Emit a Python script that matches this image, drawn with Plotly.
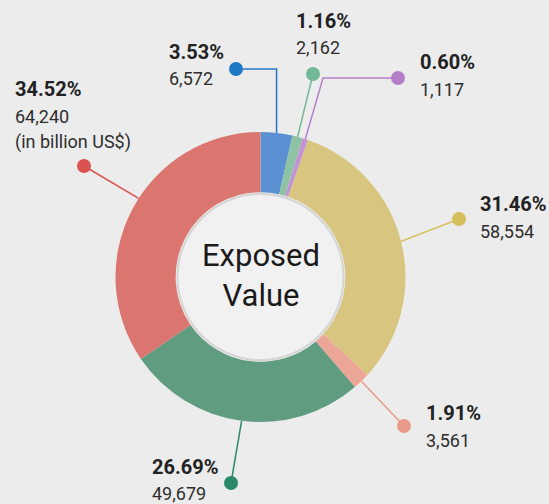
import math
import plotly.graph_objects as go

# ---- data ----
categories = ["A", "B", "C", "D", "E", "F", "G"]
values = [6572, 2162, 1117, 58554, 3561, 49679, 64240]
pct_labels = ["3.53%", "1.16%", "0.60%", "31.46%", "1.91%", "26.69%", "34.52%"]
value_labels = ["6,572", "2,162", "1,117", "58,554", "3,561", "49,679", "64,240"]
extra_labels = ["", "", "", "", "", "", "(in billion US$)"]
center_title = "Exposed<br>Value"

# ---- style ----
W, H = 549, 504
BG = "#ececec"
slice_colors = ["#5b90d2", "#8ec2a5", "#c394d4", "#d8c57f", "#eba697", "#5f9c80", "#da766f"]
dot_colors = ["#1f78c6", "#72b898", "#b57ec9", "#d5be5c", "#e99a88", "#2b8a66", "#d9534f"]
CX, CY, R = 260.5, 277, 145
HOLE = 0.585

# label layout (pixel positions: text left x, pct centre y, value centre y)
label_pos = [(167, 52, 78), (294, 21, 47), (418, 62, 89), (478, 204, 231),
             (424, 413, 440), (150, 467, 493), (13, 89, 116)]
dot_pos = [(236, 69), (313, 74), (398, 78), (459, 219), (404, 426), (231, 483), (84, 166)]
# elbow: None = straight, ("v", y) = go vertical to y then horizontal, ("d", x, y) = go to point then horizontal
elbows = [("v", 69), None, ("d", 323, 78), None, None, None, None]
start_frac = [None, None, None, None, None, None, 0.014]

total = sum(values)
fig = go.Figure()

fig.add_trace(go.Pie(
    values=values, labels=categories, sort=False, direction="clockwise", rotation=0,
    hole=HOLE, marker=dict(colors=slice_colors, line=dict(width=0)),
    textinfo="none", hoverinfo="skip", showlegend=False,
    domain=dict(x=[(CX - R) / W, (CX + R) / W], y=[1 - (CY + R) / H, 1 - (CY - R) / H]),
))

# leader lines and dots computed from slice angles
cum = 0
for i, v in enumerate(values):
    mid = (cum + v / 2) / total
    if start_frac[i] is not None:
        mid += start_frac[i]
    cum += v
    ang = 2 * math.pi * mid
    sx = CX + R * math.sin(ang)
    sy = CY - R * math.cos(ang)
    dx, dy = dot_pos[i]
    e = elbows[i]
    if e is None:
        xs, ys = [sx, dx], [sy, dy]
    elif e[0] == "v":
        xs, ys = [sx, sx, dx], [sy, e[1], dy]
    else:
        xs, ys = [sx, e[1], dx], [sy, e[2], dy]
    fig.add_trace(go.Scatter(x=xs, y=ys, mode="lines", line=dict(color=dot_colors[i], width=1.5),
                             hoverinfo="skip", showlegend=False))
    fig.add_trace(go.Scatter(x=[dx], y=[dy], mode="markers",
                             marker=dict(color=dot_colors[i], size=14, line=dict(width=0)),
                             hoverinfo="skip", showlegend=False))

FONT = "Roboto"
for i in range(len(values)):
    lx, py, vy = label_pos[i]
    fig.add_annotation(x=lx, y=py, xref="x", yref="y", xanchor="left", yanchor="middle",
                       text="<b>" + pct_labels[i] + "</b>", showarrow=False,
                       font=dict(family=FONT, size=20, color="#222222"))
    fig.add_annotation(x=lx, y=vy, xref="x", yref="y", xanchor="left", yanchor="middle",
                       text=value_labels[i], showarrow=False,
                       font=dict(family=FONT, size=18, color="#2e2e2e"))
    if extra_labels[i]:
        fig.add_annotation(x=lx, y=vy + 26, xref="x", yref="y", xanchor="left", yanchor="middle",
                           text=extra_labels[i], showarrow=False,
                           font=dict(family=FONT, size=18, color="#2e2e2e"))

# centre disc
ri = 82
fig.add_shape(type="circle", xref="x", yref="y", x0=CX - ri - 2, x1=CX + ri + 2,
              y0=CY - ri - 2, y1=CY + ri + 2, fillcolor="#d4d4d4", line=dict(width=0), layer="above")
fig.add_shape(type="circle", xref="x", yref="y", x0=CX - ri, x1=CX + ri,
              y0=CY - ri, y1=CY + ri, fillcolor="#f1f1f1", line=dict(width=0), layer="above")
fig.add_annotation(x=CX, y=CY - 2, xref="x", yref="y", text=center_title, showarrow=False,
                   font=dict(family=FONT, size=31, color="#1a1a1a"), xanchor="center", yanchor="middle")

fig.update_layout(
    width=W, height=H, margin=dict(l=0, r=0, t=0, b=0),
    paper_bgcolor=BG, plot_bgcolor="rgba(0,0,0,0)",
    xaxis=dict(range=[0, W], visible=False, fixedrange=True),
    yaxis=dict(range=[H, 0], visible=False, fixedrange=True),
    showlegend=False,
)
fig.write_html("out.html", config={"displayModeBar": False},
               post_script="document.body.style.margin='0px';document.body.style.overflow='hidden';")
